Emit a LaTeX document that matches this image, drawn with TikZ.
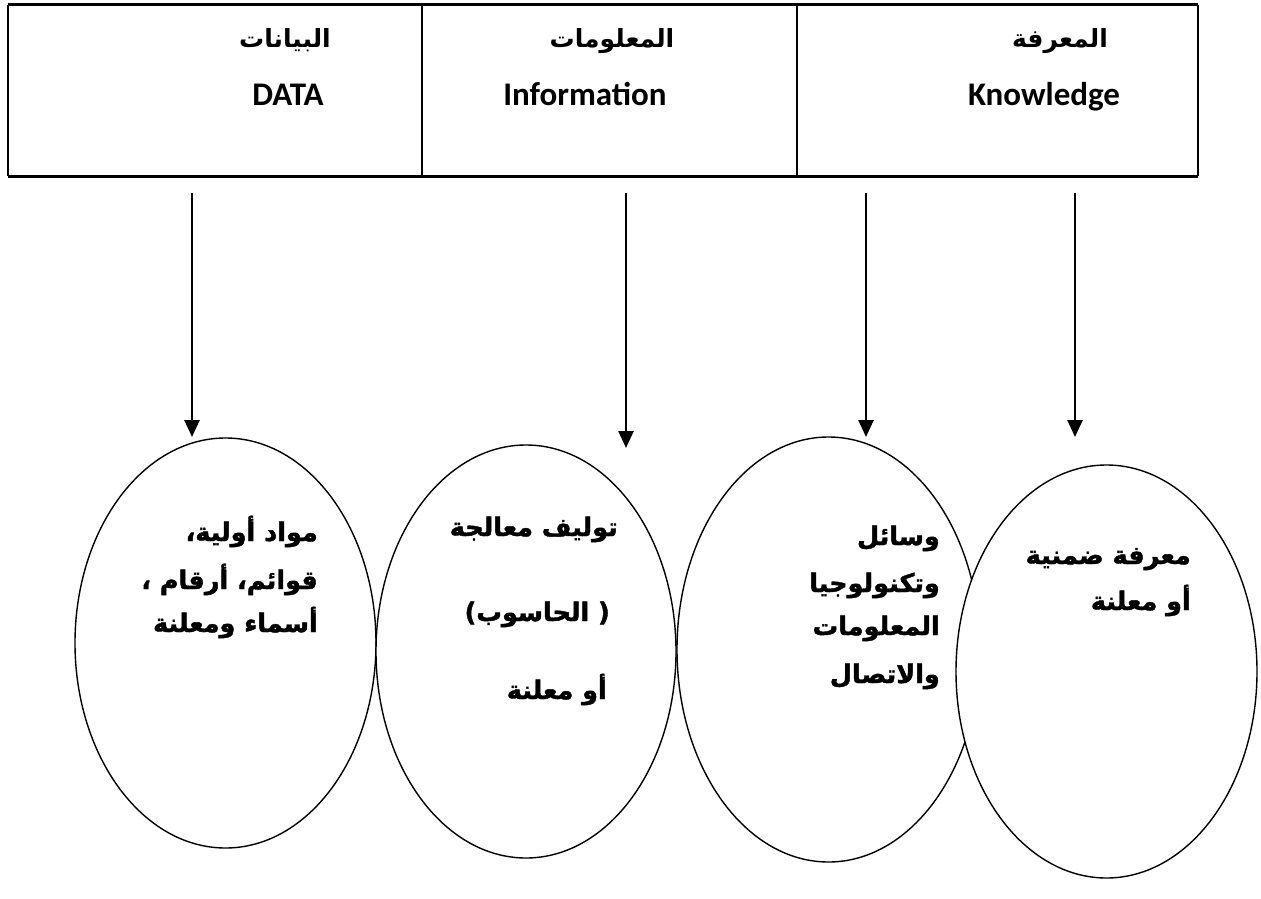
\documentclass[tikz,border=0pt]{standalone}
\usepackage{fontspec}
\setmainfont{Carlito}
\newfontfamily\arabicfont[Script=Arabic]{DejaVu Sans}
\newfontfamily\arabicheavy[Script=Arabic, FakeBold=1.6]{DejaVu Sans Bold}
\TeXXeTstate=1
\usetikzlibrary{shapes.geometric,arrows.meta}
\begin{document}
\begin{tikzpicture}[x=1pt,y=-1pt,
  thickline/.style={line width=3.2pt},
  thinline/.style={line width=1.8pt},
  cell/.style={draw=none, inner sep=0pt, minimum height=171pt},
  oval/.style={draw, fill=white, ellipse, line width=1.4pt, inner sep=0pt},
  arr/.style={line width=2.6pt, -{Triangle[width=15pt,length=17pt]}},
  hdrar/.style={anchor=base, inner sep=0pt, font=\arabicfont\bfseries\fontsize{25}{28}\selectfont},
  hdrlat/.style={anchor=base, inner sep=0pt, font=\bfseries\fontsize{33}{36}\selectfont},
  etext/.style={anchor=base east, inner sep=0pt, font=\arabicheavy\fontsize{25.5}{28}\selectfont},
]
\useasboundingbox (0,0) rectangle (1261,899);

% table cells
\node[cell, minimum width=414pt] (c1) at (215,90.5) {};
\node[cell, minimum width=375pt] (c2) at (609.5,90.5) {};
\node[cell, minimum width=401pt] (c3) at (997.5,90.5) {};
\draw[thickline] (c1.north west) -- (c3.north east);
\draw[thickline] (c1.south west) -- (c3.south east);
\draw[thinline] (c1.north west) -- (c1.south west);
\draw[thinline] (c1.north east) -- (c1.south east);
\draw[thinline] (c2.north east) -- (c2.south east);
\draw[thinline] (c3.north east) -- (c3.south east);

% headers
\node[hdrar] (h1a) at (285,48) {\beginR البيانات\endR};
\node[hdrlat] (h1b) at (288,105) {DATA};
\node[hdrar] (h2a) at (612,48) {\beginR المعلومات\endR};
\node[hdrlat] (h2b) at (585,105) {Information};
\node[hdrar] (h3a) at (1060,48) {\beginR المعرفة\endR};
\node[hdrlat] (h3b) at (1044,105) {Knowledge};

% ellipses
\node[oval, minimum width=301pt, minimum height=410pt] (e1) at (225.5,643) {};
\node[oval, minimum width=300pt, minimum height=413pt] (e2) at (526,651.5) {};
\node[oval, minimum width=303pt, minimum height=425pt] (e3) at (828.5,649.5) {};
\node[oval, minimum width=301pt, minimum height=413pt] (e4) at (1106.5,671.5) {};

% arrows
\coordinate (a1s) at (192,193); \coordinate (a1e) at (192,437);
\coordinate (a2s) at (626,193); \coordinate (a2e) at (626,448);
\coordinate (a3s) at (866,193); \coordinate (a3e) at (866,437);
\coordinate (a4s) at (1075,193); \coordinate (a4e) at (1075,437);
\draw[arr] (a1s) -- (a1e);
\draw[arr] (a2s) -- (a2e);
\draw[arr] (a3s) -- (a3e);
\draw[arr] (a4s) -- (a4e);

% ellipse texts
\node[etext] (t11) at (318,541) {\beginR مواد أولية،\endR};
\node[etext] (t12) at (318,589) {\beginR قوائم، أرقام ،\endR};
\node[etext] (t13) at (318,632) {\beginR أسماء ومعلنة\endR};

\node[etext] (t21) at (618,536) {\beginR توليف معالجة\endR};
\node[etext] (t22) at (610,621) {\beginR ( الحاسوب)\endR};
\node[etext] (t23) at (607,699) {\beginR أو معلنة\endR};

\node[etext] (t31) at (940,545) {\beginR وسائل\endR};
\node[etext] (t32) at (940,592) {\beginR وتكنولوجيا\endR};
\node[etext] (t33) at (940,635) {\beginR المعلومات\endR};
\node[etext] (t34) at (940,683) {\beginR والاتصال\endR};

\node[etext] (t41) at (1191,564) {\beginR معرفة ضمنية\endR};
\node[etext] (t42) at (1191,610) {\beginR أو معلنة\endR};
\end{tikzpicture}
\end{document}
